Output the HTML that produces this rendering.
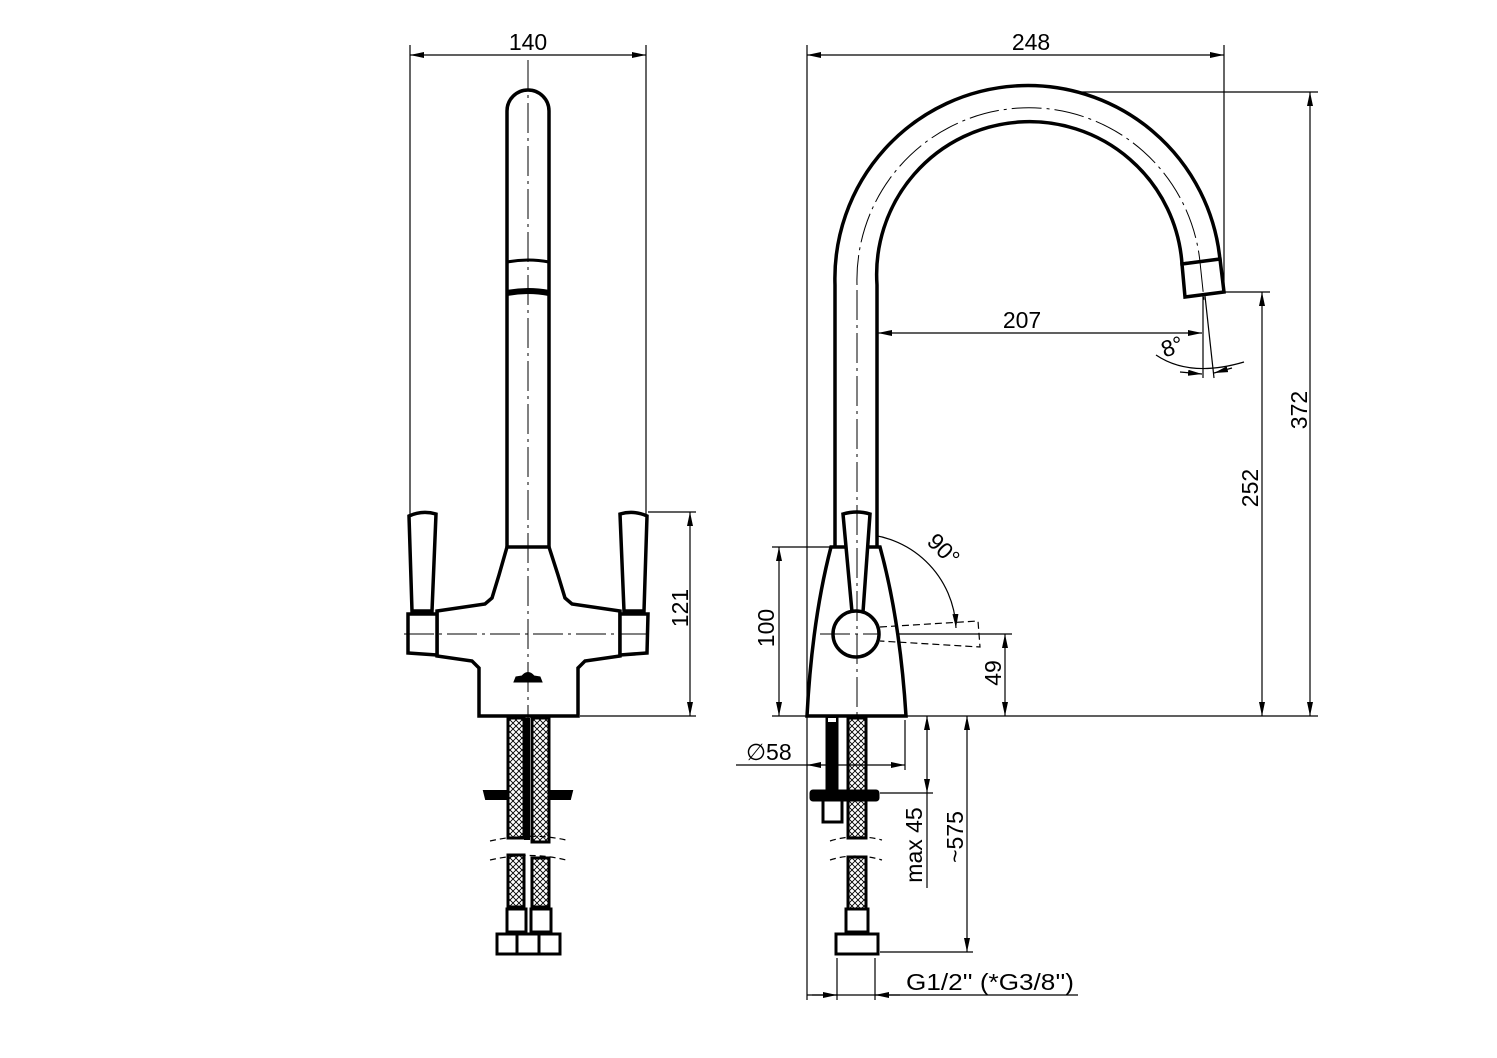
<!DOCTYPE html>
<html><head><meta charset="utf-8"><style>
html,body{margin:0;padding:0;background:#fff}
svg{display:block}
text{font-family:"Liberation Sans",sans-serif;font-size:23px;fill:#000}
</style></head><body>
<svg width="1497" height="1058" viewBox="0 0 1497 1058" xmlns="http://www.w3.org/2000/svg">
<defs>
<marker id="a" viewBox="0 0 14 6" refX="14" refY="3" markerWidth="14" markerHeight="6" markerUnits="userSpaceOnUse" orient="auto-start-reverse"><path d="M0,0 L14,3 L0,6 Z" fill="#000"/></marker>
<pattern id="h" width="6" height="6" patternUnits="userSpaceOnUse"><path d="M0,0 L6,6 M6,0 L0,6" stroke="#000" stroke-width="0.9"/></pattern>
</defs>
<g fill="none" stroke="#000">
<!-- ========== LEFT VIEW ========== -->
<g stroke-width="1.2">
<line x1="410" y1="45" x2="410" y2="520"/><line x1="646" y1="45" x2="646" y2="520"/>
<line x1="410" y1="55" x2="646" y2="55" marker-start="url(#a)" marker-end="url(#a)"/>
<line x1="648" y1="512" x2="696" y2="512"/><line x1="580" y1="716" x2="696" y2="716"/>
<line x1="690" y1="512" x2="690" y2="716" marker-start="url(#a)" marker-end="url(#a)"/>
</g>
<g stroke-width="3.5" fill="#fff">
<path d="M507,547 L507,111 A21,21 0 0 1 549,111 L549,547"/>
<path d="M507,547 L549,547 L558,575 L565,598 L572,604 L620,611 L620,656 L585,661 L578,668 L578,716 L479,716 L479,668 L472,661 L437,656 L437,611 L485,604 L492,598 L499,575 Z"/>
<path d="M409,516 Q422,510 436,514 L432,611 L412,611 Z"/>
<path d="M408,614 L437,614 L437,655 L408,653 Z"/>
<path d="M620,514 Q634,510 647,516 L644,611 L624,611 Z"/>
<path d="M620,614 L648,614 L647,653 L620,655 Z"/>
</g>
<path d="M507,262 Q528,258 549,262" stroke-width="3"/>
<path d="M507,293 Q528,289 549,293" stroke-width="6"/>
<path d="M514,682 L542,682 L540,677 L534,676 Q528,669 522,676 L516,677 Z" fill="#000" stroke-width="1"/>
<g stroke-width="3">
<rect x="508" y="718" width="16" height="120" fill="url(#h)"/>
<rect x="532" y="718" width="17" height="124" fill="url(#h)"/>
<rect x="508" y="855" width="16" height="52" fill="url(#h)"/>
<rect x="532" y="858" width="17" height="49" fill="url(#h)"/>
</g>
<rect x="524" y="718" width="6" height="122" fill="#000" stroke="none"/>
<path d="M484,791 L506,791 L506,799 L486,799 Z" fill="#000" stroke-width="2"/>
<path d="M551,791 L572,791 L570,799 L551,799 Z" fill="#000" stroke-width="2"/>
<path d="M490,841 Q530,832 566,840 M490,860 Q530,851 566,860" stroke-width="1.2" stroke-dasharray="6,4"/>
<g stroke-width="3">
<rect x="507" y="909" width="19" height="23"/><rect x="531" y="909" width="20" height="23"/>
<rect x="497" y="934" width="63" height="20"/>
<line x1="517" y1="934" x2="517" y2="954"/><line x1="539" y1="934" x2="539" y2="954"/>
</g>
<g stroke-width="1" stroke-dasharray="30,5,3,5">
<line x1="528" y1="60" x2="528" y2="720"/>
<line x1="404" y1="634" x2="652" y2="634"/>
</g>

<!-- ========== RIGHT VIEW ========== -->
<g stroke-width="1.2">
<line x1="807" y1="45" x2="807" y2="1000"/><line x1="1224" y1="45" x2="1224" y2="290"/>
<line x1="807" y1="55" x2="1224" y2="55" marker-start="url(#a)" marker-end="url(#a)"/>
<line x1="1030" y1="92" x2="1318" y2="92"/><line x1="906" y1="716" x2="1318" y2="716"/>
<line x1="1310" y1="92" x2="1310" y2="716" marker-start="url(#a)" marker-end="url(#a)"/>
<line x1="1222" y1="292" x2="1270" y2="292"/>
<line x1="1262" y1="292" x2="1262" y2="716" marker-start="url(#a)" marker-end="url(#a)"/>
<line x1="878" y1="333" x2="1202" y2="333" marker-start="url(#a)" marker-end="url(#a)"/>
<line x1="1203" y1="296" x2="1203" y2="378"/><line x1="1205" y1="296" x2="1214" y2="378"/>
<path d="M1156,355 Q1190,378 1244,362"/>
<line x1="1180" y1="372" x2="1202" y2="374" marker-end="url(#a)"/>
<line x1="1232" y1="368" x2="1214" y2="373" marker-end="url(#a)"/>
<line x1="772" y1="547" x2="836" y2="547"/><line x1="772" y1="716" x2="807" y2="716"/>
<line x1="779" y1="547" x2="779" y2="716" marker-start="url(#a)" marker-end="url(#a)"/>
<line x1="880" y1="634" x2="1012" y2="634"/>
<line x1="1005" y1="634" x2="1005" y2="716" marker-start="url(#a)" marker-end="url(#a)"/>
<path d="M858,534 A98,98 0 0 1 956,628" marker-end="url(#a)"/>
<line x1="905" y1="720" x2="905" y2="770"/>
<line x1="736" y1="765" x2="905" y2="765" marker-end="url(#a)"/>
<line x1="807" y1="765" x2="820" y2="765" marker-start="url(#a)"/>
<line x1="880" y1="793" x2="933" y2="793"/>
<line x1="927" y1="716" x2="927" y2="793" marker-start="url(#a)" marker-end="url(#a)"/>
<line x1="927" y1="793" x2="927" y2="888"/>
<line x1="880" y1="952" x2="973" y2="952"/>
<line x1="967" y1="716" x2="967" y2="952" marker-start="url(#a)" marker-end="url(#a)"/>
<line x1="837" y1="958" x2="837" y2="1000"/><line x1="875" y1="958" x2="875" y2="1000"/>
<line x1="807" y1="995" x2="1078" y2="995"/>
<line x1="812" y1="995" x2="837" y2="995" marker-end="url(#a)"/>
<line x1="900" y1="995" x2="875" y2="995" marker-end="url(#a)"/>
</g>
<g stroke-width="3.5" fill="#fff">
<path d="M835,547 L835,285 A193,193 0 0 1 1220,260 L1182,264 A152,152 0 0 0 877,285 L877,547"/>
<path d="M1182,264 L1220,259 L1224,292 L1185,297 Z"/>
<path d="M831,547 L880,547 Q900,620 906,716 L807,716 Q812,620 831,547 Z"/>
<path d="M843,514 Q857,510 870,514 L863,612 L852,612 Z"/>
<circle cx="856" cy="634" r="23"/>
</g>
<path d="M880,627 L978,621 L980,647 L880,641" stroke-width="1.2" stroke-dasharray="7,4"/>
<rect x="826" y="717" width="12" height="75" fill="#000"/>
<rect x="828" y="718" width="8" height="4" fill="#fff" stroke="none"/>
<g stroke-width="3">
<rect x="848" y="718" width="18" height="120" fill="url(#h)"/>
<rect x="848" y="857" width="18" height="52" fill="url(#h)"/>
<rect x="811" y="791" width="67" height="9" fill="#000" rx="2"/>
<rect x="823" y="800" width="19" height="22"/>
<rect x="846" y="909" width="22" height="23"/>
<rect x="836" y="934" width="42" height="20"/>
</g>
<path d="M830,841 Q855,833 882,840 M830,860 Q855,852 882,860" stroke-width="1.2" stroke-dasharray="6,4"/>
<g stroke-width="1" stroke-dasharray="30,5,3,5">
<line x1="857" y1="290" x2="857" y2="720"/>
<path d="M857,285 A172,172 0 0 1 1200,262"/>
<line x1="1200" y1="262" x2="1204" y2="300"/>
<line x1="820" y1="634" x2="880" y2="634"/>
</g>
</g>
<!-- texts -->
<text x="528" y="50" text-anchor="middle">140</text>
<text transform="translate(688,608) rotate(-90)" text-anchor="middle">121</text>
<text x="1031" y="50" text-anchor="middle">248</text>
<text transform="translate(1307,410) rotate(-90)" text-anchor="middle">372</text>
<text transform="translate(1258,488) rotate(-90)" text-anchor="middle">252</text>
<text x="1022" y="328" text-anchor="middle">207</text>
<text transform="translate(1175,354) rotate(-20)" text-anchor="middle">8°</text>
<text transform="translate(938,555) rotate(45)" text-anchor="middle">90°</text>
<text transform="translate(774,628) rotate(-90)" text-anchor="middle">100</text>
<text transform="translate(1001,673) rotate(-90)" text-anchor="middle">49</text>
<text x="746" y="760">∅58</text>
<text transform="translate(922,845) rotate(-90)" text-anchor="middle">max 45</text>
<text transform="translate(963,837) rotate(-90)" text-anchor="middle">~575</text>
<text x="906" y="990" textLength="168" lengthAdjust="spacingAndGlyphs">G1/2'' (*G3/8'')</text>
</svg>
</body></html>
